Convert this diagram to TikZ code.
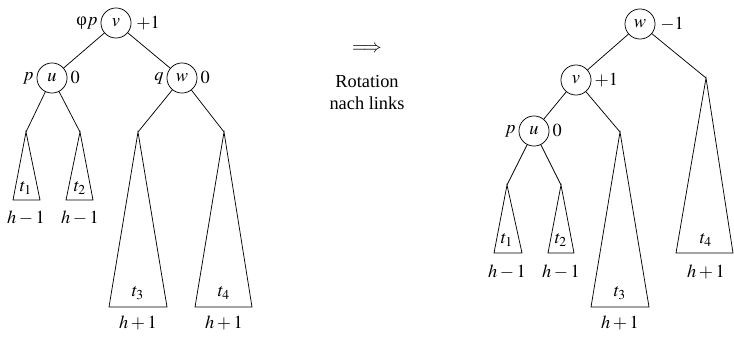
\documentclass[tikz,border=0pt]{standalone}
\usepackage{mathptmx}
\usepackage[no-math]{fontspec}
\setmainfont{Liberation Serif}
\usetikzlibrary{positioning}

\begin{document}
\begin{tikzpicture}[x=0.545pt,y=-0.545pt,
  knot/.style={draw,circle,minimum size=16.4pt,inner sep=0pt},
  tag/.style={inner sep=1.5pt}]
  \useasboundingbox (0,0) rectangle (734,338);
  % ── Left tree: nodes ───────────────────────────────
  \node[knot] (v) at (116,23) {$v$};
  \node[knot] (u) at (52,78)  {$u$};
  \node[knot] (w) at (182,78) {$w$};
  \node[tag,left=0pt of v]  (vl) {φ$p$};
  \node[tag,right=1pt of v] (vr) {$+1$};
  \node[tag,left=0pt of u]  (ul) {$p$};
  \node[tag,right=0pt of u] (ur) {$0$};
  \node[tag,left=0pt of w]  (wl) {$q$};
  \node[tag,right=0pt of w] (wr) {$0$};
  % subtree tips
  \coordinate (a1) at (26,132);
  \coordinate (a2) at (80,132);
  \coordinate (a3) at (138,132);
  \coordinate (a4) at (224,132);
  % ── Left tree: edges ───────────────────────────────
  \draw (v) -- (u);
  \draw (v) -- (w);
  \draw (u) -- (a1);
  \draw (u) -- (a2);
  \draw (w) -- (a3);
  \draw (w) -- (a4);
  % ── Left tree: subtrees ────────────────────────────
  \draw (a1) -- ++(-13,68) -- ++(27,0) -- cycle;
  \draw (a2) -- ++(-14,68) -- ++(27,0) -- cycle;
  \draw (a3) -- ++(-29,175) -- ++(58,0) -- cycle;
  \draw (a4) -- ++(-29,175) -- ++(57,0) -- cycle;
  \node (t1) at (26,188)  {$t_1$};
  \node (t2) at (80,188)  {$t_2$};
  \node (t3) at (138,293) {$t_3$};
  \node (t4) at (224,293) {$t_4$};
  \node (h1) at (26,218)  {$h-1$};
  \node (h2) at (80,218)  {$h-1$};
  \node (h3) at (138,323) {$h+1$};
  \node (h4) at (224,323) {$h+1$};
  % ── Middle: rotation ───────────────────────────────
  \node (arr) at (367,49) {$\Longrightarrow$};
  \node[align=center] (rot) at (367,93) {Rotation\\nach links};
  % ── Right tree: nodes ──────────────────────────────
  \node[knot] (rw) at (640,24)  {$w$};
  \node[knot] (rv) at (576,80)  {$v$};
  \node[knot] (ru) at (534,131) {$u$};
  \node[tag,right=1pt of rw] (rwr) {$-1$};
  \node[tag,right=0pt of rv] (rvr) {$+1$};
  \node[tag,left=0pt of ru]  (rul) {$p$};
  \node[tag,right=0pt of ru] (rur) {$0$};
  % subtree tips
  \coordinate (b1) at (507,185);
  \coordinate (b2) at (561,185);
  \coordinate (b3) at (620,132);
  \coordinate (b4) at (706,78);
  % ── Right tree: edges ──────────────────────────────
  \draw (rw) -- (rv);
  \draw (rw) -- (b4);
  \draw (rv) -- (ru);
  \draw (rv) -- (b3);
  \draw (ru) -- (b1);
  \draw (ru) -- (b2);
  % ── Right tree: subtrees ───────────────────────────
  \draw (b1) -- ++(-13,68) -- ++(28,0) -- cycle;
  \draw (b2) -- ++(-13,68) -- ++(26,0) -- cycle;
  \draw (b3) -- ++(-29,175) -- ++(58,0) -- cycle;
  \draw (b4) -- ++(-30,175) -- ++(57,0) -- cycle;
  \node (s1) at (507,240) {$t_1$};
  \node (s2) at (561,240) {$t_2$};
  \node (s3) at (620,293) {$t_3$};
  \node (s4) at (706,240) {$t_4$};
  \node (k1) at (507,272) {$h-1$};
  \node (k2) at (561,272) {$h-1$};
  \node (k3) at (620,323) {$h+1$};
  \node (k4) at (706,272) {$h+1$};
\end{tikzpicture}
\end{document}
